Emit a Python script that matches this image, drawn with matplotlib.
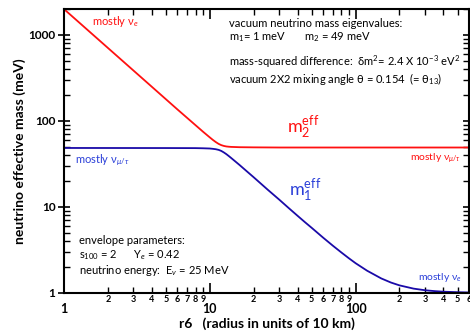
import numpy as np
import matplotlib
matplotlib.use("Agg")
import matplotlib.pyplot as plt
from matplotlib.ticker import LogLocator, FuncFormatter, NullFormatter

# ---- data ----
r_red = [1, 2, 4, 6, 8, 9, 10, 10.5, 11, 11.5, 12, 12.5, 13, 13.5, 14, 16, 20, 30, 100, 600]
m_red = [2000, 707, 250, 136, 88.9, 74.7, 64.3, 60.1, 56.7, 54.0, 52.2, 51.1, 50.4, 50.05,
         49.8, 49.4, 49.2, 49.0, 49.0, 49.0]

r_blue = [1, 5, 8, 9, 10, 10.5, 11, 11.5, 12, 12.5, 13, 13.5, 14, 16, 18, 20, 25, 30, 35, 40,
          45, 50, 60, 70, 80, 90, 100, 120, 150, 175, 200, 250, 300, 350, 400, 500, 600]
m_blue = [48.4, 48.3, 48.2, 48.0, 47.7, 47.3, 46.8, 46.0, 44.7, 42.9, 41.0, 39.0, 37.1, 30.7,
          25.8, 22.1, 15.8, 12.1, 9.59, 7.87, 6.62, 5.7, 4.37, 3.52, 2.94, 2.52, 2.21, 1.806,
          1.469, 1.315, 1.22, 1.118, 1.070, 1.045, 1.030, 1.016, 1.009]

x_limits = (1, 600)
y_limits = (1, 2000)

RED = "#ff1010"
BLUE_LINE = "#1a0aa8"
BLUE_TXT = "#2a3fd8"

plt.rcParams['font.family'] = ['Lato', 'DejaVu Sans']
plt.rcParams['mathtext.fontset'] = 'custom'
plt.rcParams['mathtext.rm'] = 'Lato'
plt.rcParams['mathtext.it'] = 'Lato:italic'

fig = plt.figure(figsize=(4.7, 3.35), dpi=100)
ax = fig.add_axes([0.136, 0.126, 0.862, 0.847])

ax.plot(r_red, m_red, color=RED, lw=1.3)
ax.plot(r_blue, m_blue, color=BLUE_LINE, lw=1.3)

ax.set_xscale('log')
ax.set_yscale('log')
ax.set_xlim(*x_limits)
ax.set_ylim(*y_limits)

for s in ax.spines.values():
    s.set_linewidth(1.5)

ax.xaxis.set_major_locator(LogLocator(base=10, numticks=10))
ax.xaxis.set_minor_locator(LogLocator(base=10, subs=np.arange(2, 10), numticks=20))
ax.yaxis.set_major_locator(LogLocator(base=10, numticks=10))
ax.yaxis.set_minor_locator(LogLocator(base=10, subs=np.arange(2, 10), numticks=20))

ax.xaxis.set_major_formatter(FuncFormatter(lambda v, p: f"{int(round(v))}"))
ax.yaxis.set_major_formatter(FuncFormatter(lambda v, p: f"{int(round(v))}"))

def minor_fmt(v, p):
    d = v / 10 ** np.floor(np.log10(v) + 1e-9)
    return f"{int(round(d))}"

ax.xaxis.set_minor_formatter(FuncFormatter(minor_fmt))
ax.yaxis.set_minor_formatter(NullFormatter())

ax.tick_params(axis='y', which='major', direction='inout', length=8, width=1.2, right=True,
               labelsize=8.5, pad=2)
ax.tick_params(axis='x', which='major', direction='in', length=7, width=1.2, top=True,
               labelsize=9, pad=7)
ax.tick_params(which='minor', direction='in', length=4, width=1.0, top=True, right=True)
ax.tick_params(axis='x', which='minor', labelsize=6.5, pad=1.5)
for lbl in ax.get_xticklabels(which='both') + ax.get_yticklabels():
    lbl.set_fontweight('bold')

ax.set_xlabel("r6   (radius in units of 10 km)", fontsize=10, fontweight='bold', labelpad=2)
ax.set_ylabel("neutrino effective mass (meV)", fontsize=10, fontweight='bold', labelpad=2)

# curve annotations
ax.text(1.57, 1440, "mostly ν$_e$", color=RED, fontsize=8, va='center')
ax.text(34, 82, r"m$_2^{\rm eff}$", color=RED, fontsize=13, va='center')
ax.text(530, 37, r"mostly ν$_{\mu/\tau}$", color=RED, fontsize=7.5, va='center', ha='right')
ax.text(1.2, 35, r"mostly ν$_{\mu/\tau}$", color=BLUE_TXT, fontsize=8, va='center')
ax.text(35, 15.5, r"m$_1^{\rm eff}$", color=BLUE_TXT, fontsize=13, va='center')
ax.text(530, 1.5, "mostly ν$_e$", color=BLUE_TXT, fontsize=7.5, va='center', ha='right')

# info blocks
tkw = dict(color='black', fontsize=8, va='center')
ax.text(13.6, 1370, "vacuum neutrino mass eigenvalues:", **tkw)
ax.text(13.6, 940, r"m$_1$= 1 meV       m$_2$ = 49 meV", **tkw)
ax.text(13.6, 482, r"mass-squared difference:  δm$^2$= 2.4 X 10$^{-3}$ eV$^2$", **tkw)
ax.text(13.6, 305, r"vacuum 2X2 mixing angle θ = 0.154  (= θ$_{13}$)", **tkw)

ax.text(1.277, 4.1, "envelope parameters:", **tkw)
ax.text(1.277, 2.74, r"s$_{100}$ = 2      Y$_e$ = 0.42", **tkw)
ax.text(1.277, 1.84, r"neutrino energy:  E$_ν$ = 25 MeV", **tkw)

fig.savefig("out.png", dpi=100)
